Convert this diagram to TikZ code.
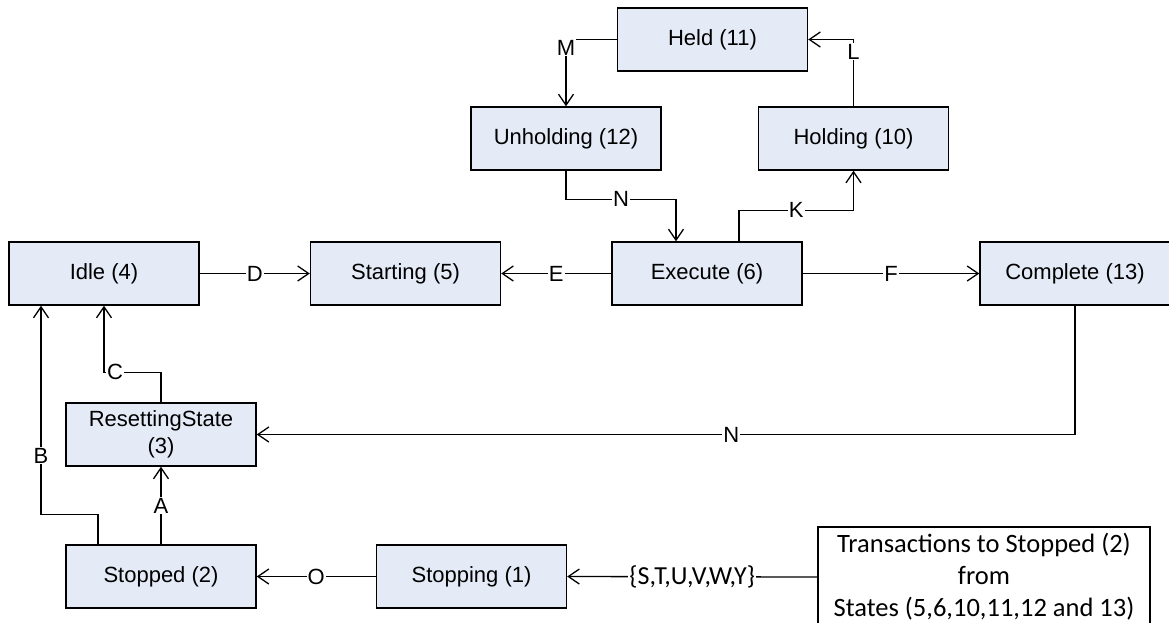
\documentclass[tikz,border=0pt]{standalone}
\usepackage{fontspec}
\setmainfont{Liberation Sans}
\newfontfamily\notefont{Carlito}
\usetikzlibrary{arrows.meta}
\definecolor{stateblue}{RGB}{228,235,247}

\begin{document}
\begin{tikzpicture}[x=1pt,y=-1pt,
  state/.style={draw, line width=1.4pt, fill=stateblue, minimum width=190pt,
    minimum height=63pt, align=center, font=\fontsize{22}{27}\selectfont},
  note/.style={draw, line width=1.4pt, fill=white, minimum width=332pt,
    minimum height=100pt, align=center, font=\notefont\fontsize{26.5}{32}\selectfont},
  lbl/.style={fill=white, inner sep=1pt, font=\fontsize{22}{26}\selectfont},
  tlbl/.style={fill=white, inner sep=1pt, font=\notefont\fontsize{26}{30}\selectfont},
  arr/.style={draw, line width=1.3pt, -{Straight Barb[length=11pt,width=15pt,line width=1.3pt]}}]
\useasboundingbox (0,0) rectangle (1169,622);

\node[state] (held) at (712.5,39.5) {Held (11)};
\node[state] (unhold) at (566,138.5) {Unholding (12)};
\node[state] (holding) at (853.5,138.5) {Holding (10)};
\node[state] (idle) at (104,273.5) {Idle (4)};
\node[state] (starting) at (405.5,273.5) {Starting (5)};
\node[state] (execute) at (707,273.5) {Execute (6)};
\node[state] (complete) at (1075,273.5) {Complete (13)};
\node[state] (reset) at (161,434.5) {ResettingState\\(3)};
\node[state] (stopped) at (161,576.5) {Stopped (2)};
\node[state] (stopping) at (471.5,576.5) {Stopping (1)};
\node[note] (trans) at (984,577) {Transactions to Stopped (2)\\from\\States (5,6,10,11,12 and 13)};

\draw[arr] (held.west) -| node[lbl,pos=0.5,yshift=-8pt] {M} (unhold.north);
\draw[arr] (holding.north) |- node[lbl,pos=0.5,yshift=-12pt] {L} (held.east);
\draw[arr] (unhold.south) |- node[lbl,pos=0.75] {N} ([xshift=-31pt,yshift=42pt]execute.north)
  -- ([xshift=-31pt]execute.north);
\draw[arr] ([xshift=32pt]execute.north) -- ++(0,31pt) -| node[lbl,pos=0.25] {K} (holding.south);
\draw[arr] (execute.west) -- node[lbl] {E} (starting.east);
\draw[arr] (execute.east) -- node[lbl] {F} (complete.west);
\draw[arr] (idle.east) -- node[lbl] {D} (starting.west);
\draw[arr] (complete.south) |- node[lbl,pos=0.71] {N} (reset.east);
\draw[arr] (reset.north) -- ++(0,30pt) -| node[lbl,pos=0.5,xshift=11pt] {C} (idle.south);
\draw[arr] ([xshift=-63pt]stopped.north) -- ++(0,30pt) -| node[lbl,pos=0.64] {B} ([xshift=-63pt]idle.south);
\draw[arr] (stopped.north) -- node[lbl] {A} (reset.south);
\draw[arr] (stopping.west) -- node[lbl] {O} (stopped.east);
\draw[arr] (trans.west) -- node[tlbl] {\{S,T,U,V,W,Y\}} (stopping.east);
\end{tikzpicture}
\end{document}
